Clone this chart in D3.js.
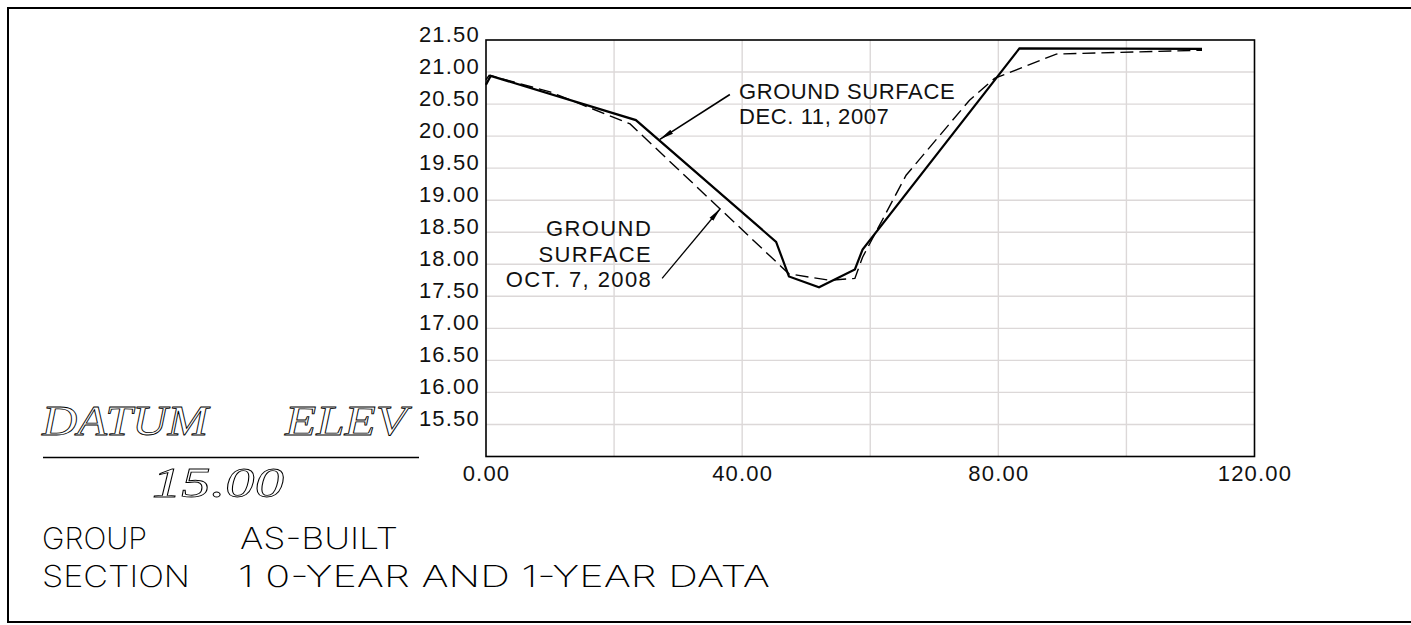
<!DOCTYPE html>
<html>
<head>
<meta charset="utf-8">
<script src="https://cdn.jsdelivr.net/npm/d3@7"></script>
<style>
  html, body { margin: 0; padding: 0; background: #fff; overflow: hidden; }
  svg { display: block; }
</style>
</head>
<body>
<svg id="chart" width="1411" height="625"></svg>
<script>
// ---- data ----
const dec2007X = [0, 0.73, 23.4, 45.3, 47.3, 52.0, 57.6, 58.8, 83.3, 111.8];
const dec2007Y = [20.80, 20.94, 20.25, 18.35, 17.81, 17.64, 17.92, 18.23, 21.37, 21.36];
const oct2008X = [0, 0.5, 10, 22.5, 47.3, 53.7, 57.6, 58.8, 65.6, 75.5, 79.4, 89.05, 111.8];
const oct2008Y = [20.88, 20.95, 20.69, 20.19, 17.85, 17.75, 17.78, 18.11, 19.39, 20.56, 20.90, 21.28, 21.34];
const xTickValues = [0, 40, 80, 120];
const xTickLabels = ["0.00", "40.00", "80.00", "120.00"];
const xGridValues = [20, 40, 60, 80, 100];
const yTickValues = [15.5, 16, 16.5, 17, 17.5, 18, 18.5, 19, 19.5, 20, 20.5, 21, 21.5];
const yTickLabels = ["15.50", "16.00", "16.50", "17.00", "17.50", "18.00", "18.50", "19.00", "19.50", "20.00", "20.50", "21.00", "21.50"];
const decLabel = ["GROUND SURFACE", "DEC. 11, 2007"];
const octLabel = ["GROUND", "SURFACE", "OCT. 7, 2008"];
const datumTitle = ["DATUM", "ELEV"];
const datumValue = "15.00";
const groupRow = ["GROUP", "AS-BUILT"];
const sectionRow = ["SECTION", "1 0-YEAR AND 1-YEAR DATA"];

// ---- layout ----
const svg = d3.select("#chart");
const x = d3.scaleLinear().domain([0, 120]).range([486, 1254.5]);
const y = d3.scaleLinear().domain([15, 21.5]).range([456.5, 40]);
const labelFont = "'Liberation Sans', Arial, sans-serif";

// outer frame (left, top, bottom only — right edge is off the sheet)
svg.append("path")
  .attr("d", "M1420,8 H8 V622 H1420")
  .attr("fill", "none").attr("stroke", "#000").attr("stroke-width", 2);

// grid
const grid = svg.append("g");
grid.selectAll("line.v").data(xGridValues).join("line")
  .attr("x1", d => x(d)).attr("x2", d => x(d))
  .attr("y1", y(21.5)).attr("y2", y(15))
  .attr("stroke", "#dcd8d8").attr("stroke-width", 1.4);
grid.selectAll("line.h").data(yTickValues.filter(d => d < 21.5)).join("line")
  .attr("x1", x(0)).attr("x2", x(120))
  .attr("y1", d => y(d)).attr("y2", d => y(d))
  .attr("stroke", "#dcd8d8").attr("stroke-width", 1.4);

// plot border
svg.append("rect")
  .attr("x", x(0)).attr("y", y(21.5))
  .attr("width", x(120) - x(0)).attr("height", y(15) - y(21.5))
  .attr("fill", "none").attr("stroke", "#000").attr("stroke-width", 1.6);

// axes (labels only)
const xAxis = d3.axisBottom(x).tickValues(xTickValues)
  .tickFormat((d, i) => xTickLabels[i]).tickSize(0).tickPadding(0);
const gx = svg.append("g").attr("transform", `translate(0,${y(15)})`).call(xAxis);
gx.select(".domain").remove();
gx.selectAll("text")
  .attr("y", 24.5).attr("dy", 0)
  .attr("font-family", labelFont).attr("font-size", 22)
  .attr("letter-spacing", 1.2).attr("fill", "#111");

const yAxis = d3.axisLeft(y).tickValues(yTickValues)
  .tickFormat((d, i) => yTickLabels[i]).tickSize(0).tickPadding(6);
const gy = svg.append("g").attr("transform", `translate(${x(0)},0)`).call(yAxis);
gy.select(".domain").remove();
gy.selectAll("text")
  .attr("dy", 1.5)
  .attr("font-family", labelFont).attr("font-size", 22)
  .attr("letter-spacing", 1.2).attr("fill", "#111");

// lines
const line = d3.line().x(d => x(d[0])).y(d => y(d[1]));
const octData = oct2008X.map((v, i) => [v, oct2008Y[i]]);
const decData = dec2007X.map((v, i) => [v, dec2007Y[i]]);
svg.append("path").datum(octData).attr("d", line)
  .attr("fill", "none").attr("stroke", "#000").attr("stroke-width", 1.4)
  .attr("stroke-dasharray", "13,6");
svg.append("path").datum(decData).attr("d", line)
  .attr("fill", "none").attr("stroke", "#000").attr("stroke-width", 2.2)
  .attr("stroke-linejoin", "miter");

// arrow markers
const defs = svg.append("defs");
defs.append("marker").attr("id", "arrow")
  .attr("viewBox", "0 0 14 6").attr("refX", 14).attr("refY", 3)
  .attr("markerWidth", 14).attr("markerHeight", 6)
  .attr("markerUnits", "userSpaceOnUse").attr("orient", "auto")
  .append("path").attr("d", "M0,0.6 L14,3 L0,5.4 Z").attr("fill", "#000");

// annotations
svg.append("line")
  .attr("x1", x(38.08)).attr("y1", y(20.65))
  .attr("x2", x(27.15)).attr("y2", y(19.95))
  .attr("stroke", "#000").attr("stroke-width", 1.6)
  .attr("marker-end", "url(#arrow)");
svg.append("g").selectAll("text").data(decLabel).join("text")
  .attr("x", x(39.5))
  .attr("y", (d, i) => y([20.58, 20.19][i]))
  .attr("font-family", labelFont).attr("font-size", 22)
  .attr("letter-spacing", 0.6).attr("fill", "#111")
  .text(d => d);

svg.append("line")
  .attr("x1", x(27.5)).attr("y1", y(17.78))
  .attr("x2", x(36.6)).attr("y2", y(18.87))
  .attr("stroke", "#000").attr("stroke-width", 1.3)
  .attr("marker-end", "url(#arrow)");
svg.append("g").selectAll("text").data(octLabel).join("text")
  .attr("x", x(25.95))
  .attr("y", (d, i) => y([18.44, 18.03, 17.64][i]))
  .attr("text-anchor", "end")
  .attr("font-family", labelFont).attr("font-size", 22)
  .attr("letter-spacing", 1.4).attr("fill", "#111")
  .text(d => d);

// datum block
const serif = "'Liberation Serif', 'DejaVu Serif', serif";
const datumG = svg.append("g");
function outlineText(t, x0, y0, w) {
  datumG.append("text").attr("x", x0).attr("y", y0)
    .attr("textLength", w).attr("lengthAdjust", "spacingAndGlyphs")
    .attr("font-family", serif).attr("font-style", "italic").attr("font-size", 42)
    .attr("fill", "none").attr("stroke", "#000").attr("stroke-width", 0.8)
    .text(t);
}
outlineText(datumTitle[0], 42, 435, 166);
outlineText(datumTitle[1], 285, 435, 122);
datumG.append("line").attr("x1", 43).attr("x2", 419).attr("y1", 457.5).attr("y2", 457.5)
  .attr("stroke", "#000").attr("stroke-width", 1.6);
outlineText(datumValue, 152, 496.5, 132);

const thin = "Inter, Roboto, 'Open Sans', sans-serif";
const rows = [
  { t: groupRow[0], x: 42, y: 548.5, w: 105 },
  { t: groupRow[1], x: 240, y: 548.5, w: 158 },
  { t: sectionRow[0], x: 42, y: 586.5, w: 148 },
  { t: sectionRow[1], x: 238, y: 586.5, w: 532 }
];
svg.append("g").selectAll("text").data(rows).join("text")
  .attr("x", d => d.x).attr("y", d => d.y)
  .attr("textLength", d => d.w).attr("lengthAdjust", "spacingAndGlyphs")
  .attr("font-family", thin).attr("font-weight", 200).attr("font-size", 30)
  .attr("fill", "#000")
  .text(d => d.t);
</script>
</body>
</html>
